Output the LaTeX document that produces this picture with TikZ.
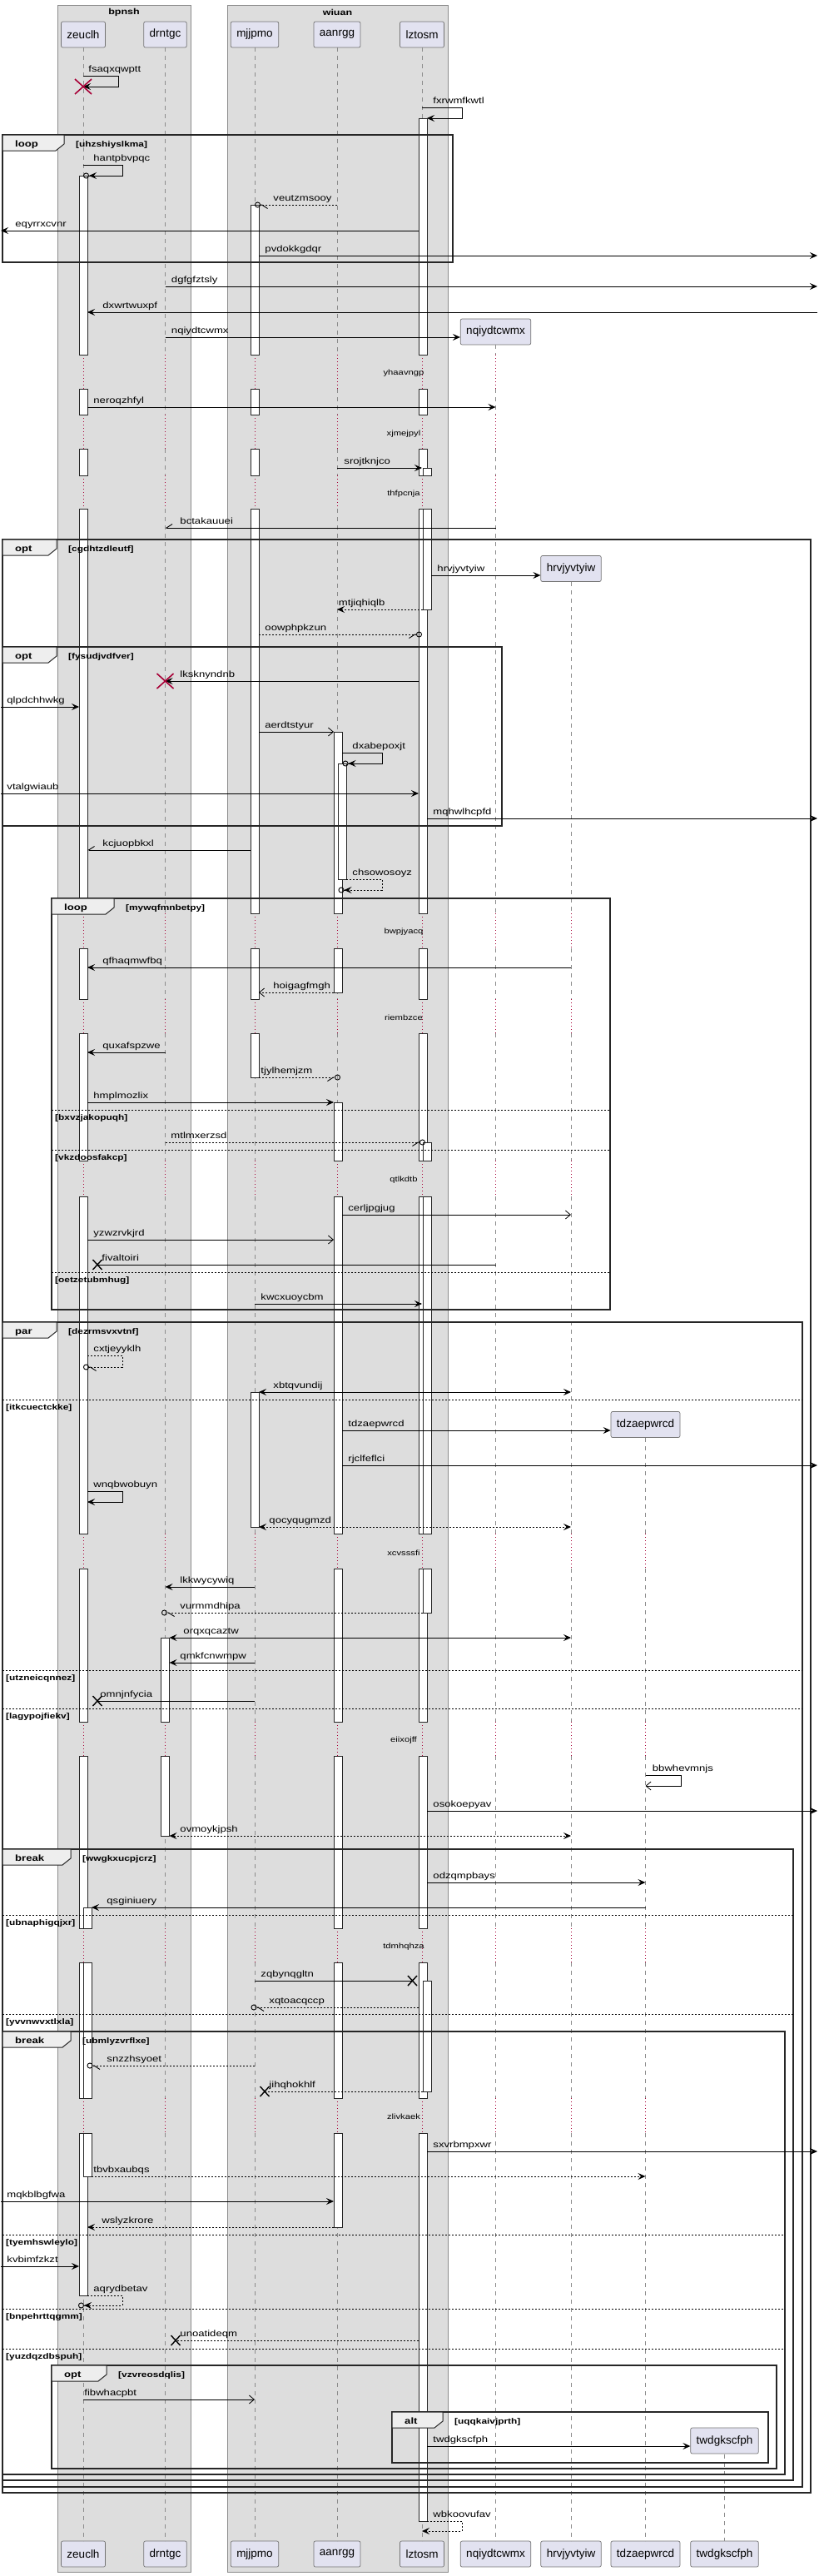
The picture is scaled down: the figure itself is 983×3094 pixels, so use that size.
\documentclass[tikz,border=0pt]{standalone}
\usepackage{fontspec}
\setmainfont{Liberation Sans}
\newfontfamily\msgfont[FakeStretch=1.25]{Liberation Sans}
\usetikzlibrary{arrows.meta}

\definecolor{grpfill}{HTML}{DDDDDD}
\definecolor{partfill}{HTML}{E2E2F0}
\definecolor{tabfill}{HTML}{EEEEEE}
\definecolor{delayred}{HTML}{A80036}

\tikzset{
  solidhead/.tip={Stealth[length=9pt,width=8pt,inset=3.5pt]},
  openhead/.tip={Straight Barb[length=6pt,width=10pt]},
  halfr/.tip={Straight Barb[right,length=7pt,width=9pt]},
  halfl/.tip={Straight Barb[left,length=7pt,width=9pt]},
  ring/.tip={Circle[open,length=7pt]},
  grpbox/.style={draw=black!45, fill=grpfill, line width=0.6pt},
  grptitle/.style={font=\msgfont\bfseries\fontsize{10}{12}\selectfont, inner sep=0pt},
  partbox/.style={draw=black!55, fill=partfill, rounded corners=2pt, line width=0.7pt,
    minimum height=31pt, inner xsep=7pt, inner ysep=0pt, font=\fontsize{13.5}{16}\selectfont},
  life/.style={draw=black!45, line width=0.6pt, dash pattern=on 5pt off 5pt},
  delayline/.style={draw=delayred, line width=0.7pt, dash pattern=on 1pt off 3pt},
  actbox/.style={draw=black!85, fill=white, line width=0.7pt},
  syncmsg/.style={draw=black, line width=0.9pt, -solidhead},
  retmsg/.style={syncmsg, dash pattern=on 2pt off 2pt},
  opnmsg/.style={draw=black, line width=0.8pt, -openhead},
  ropnmsg/.style={opnmsg, dash pattern=on 2pt off 2pt},
  plainmsg/.style={draw=black, line width=0.9pt},
  msglbl/.style={font=\msgfont\fontsize{10.5}{12}\selectfont, anchor=base west, inner sep=0pt, yshift=5pt},
  delaylbl/.style={font=\msgfont\fontsize{9}{11}\selectfont, inner sep=0pt},
  fragbox/.style={draw=black!85, line width=1.4pt},
  fragtab/.style={draw=black!85, fill=tabfill, line width=1pt},
  kwlbl/.style={font=\msgfont\bfseries\fontsize{10.5}{12}\selectfont, anchor=base west, inner sep=0pt},
  condlbl/.style={font=\msgfont\bfseries\fontsize{9.5}{11}\selectfont, anchor=base west, inner sep=0pt},
  elseline/.style={draw=black, line width=0.7pt, dash pattern=on 2pt off 2pt},
  destroyx/.style={draw=delayred, line width=1.6pt},
  lostx/.style={draw=black, line width=1.4pt}
}

\def\segs{57/426,467/498,539/571,611/1097,1139/1200,1241/1394,1437/1842,1884/2068,2109/2316,2357/2520,2562/3052}
\def\gaps{426/467,498/539,571/611,1097/1139,1200/1241,1394/1437,1842/1884,2068/2109,2316/2357,2520/2562}

\newcommand\lifeline[2]{%
  \foreach \a/\b in \segs {%
    \pgfmathsetmacro\segLo{max(\a,#2)}%
    \pgfmathtruncatemacro\segOk{\b>\segLo}%
    \ifnum\segOk>0 \draw[life] (#1 |- 0,\segLo) -- (#1 |- 0,\b);\fi}%
  \foreach \a/\b in \gaps {%
    \pgfmathtruncatemacro\segOk{\a>=#2}%
    \ifnum\segOk>0 \draw[delayline] (#1 |- 0,\a) -- (#1 |- 0,\b);\fi}}

\newcommand\actbar[4]{%
  \foreach \a/\b in \segs {%
    \pgfmathsetmacro\segLo{max(\a,#3)}%
    \pgfmathsetmacro\segHi{min(\b,#4)}%
    \pgfmathtruncatemacro\segOk{\segHi>\segLo}%
    \ifnum\segOk>0 \draw[actbox] ([xshift=#2pt-5pt]#1 |- 0,\segLo) rectangle ([xshift=#2pt+5pt]#1 |- 0,\segHi);\fi}}

\newcommand\fragment[8]{%
  \draw[fragbox] (#2,#3) rectangle (#4,#5);
  \draw[fragtab] (#2,#3) -- (#6,#3) -- (#6,#3+11) -- (#6-10,#3+19) -- (#2,#3+19) -- cycle;
  \node[kwlbl] (#1-kw) at (#2+15,#3+14.5) {#7};
  \node[condlbl] (#1-cond) at (#6+14,#3+14) {[#8]};}

\newcommand\elsepart[5]{%
  \draw[elseline] (#2,#4) -- (#3,#4);
  \node[condlbl] (#1) at (#2+4,#4+12) {[#5]};}

\begin{document}
\begin{tikzpicture}[x=1pt,y=-1pt]
\useasboundingbox (0,0) rectangle (983,3094);
\coordinate (lft) at (1,0);
\coordinate (rgt) at (982,0);

\draw[grpbox] (69,6) rectangle (229,3089);
\draw[grpbox] (273,6) rectangle (538,3089);
\node[grptitle] (bpnsh) at (149,15) {bpnsh};
\node[grptitle] (wiuan) at (405.5,15) {wiuan};

\node[partbox] (zeuclh) at (100,41.5) {zeuclh};
\node[partbox] (drntgc) at (198.5,41.5) {drntgc};
\node[partbox] (mjjpmo) at (306,41.5) {mjjpmo};
\node[partbox] (aanrgg) at (405,41.5) {aanrgg};
\node[partbox] (lztosm) at (507,41.5) {lztosm};
\node[partbox] (nqiydtcwmx) at (595.5,398.5) {nqiydtcwmx};
\node[partbox] (hrvjyvtyiw) at (686,683) {hrvjyvtyiw};
\node[partbox] (tdzaepwrcd) at (775.5,1711) {tdzaepwrcd};
\node[partbox] (twdgkscfph) at (870.5,2931.5) {twdgkscfph};

\node[partbox] (zeuclhB) at (zeuclh |- 0,3067.5) {zeuclh};
\node[partbox] (drntgcB) at (drntgc |- 0,3067.5) {drntgc};
\node[partbox] (mjjpmoB) at (mjjpmo |- 0,3067.5) {mjjpmo};
\node[partbox] (aanrggB) at (aanrgg |- 0,3067.5) {aanrgg};
\node[partbox] (lztosmB) at (lztosm |- 0,3067.5) {lztosm};
\node[partbox] (nqiydtcwmxB) at (nqiydtcwmx |- 0,3067.5) {nqiydtcwmx};
\node[partbox] (hrvjyvtyiwB) at (hrvjyvtyiw |- 0,3067.5) {hrvjyvtyiw};
\node[partbox] (tdzaepwrcdB) at (tdzaepwrcd |- 0,3067.5) {tdzaepwrcd};
\node[partbox] (twdgkscfphB) at (twdgkscfph |- 0,3067.5) {twdgkscfph};

\lifeline{zeuclh}{57}
\lifeline{drntgc}{57}
\lifeline{mjjpmo}{57}
\lifeline{aanrgg}{57}
\lifeline{lztosm}{57}
\lifeline{nqiydtcwmx}{414}
\lifeline{hrvjyvtyiw}{699}
\lifeline{tdzaepwrcd}{1727}
\lifeline{twdgkscfph}{2948}

\actbar{zeuclh}{0}{211}{2757}
\actbar{zeuclh}{5}{2291}{2614}
\actbar{mjjpmo}{0}{246}{1294}
\actbar{mjjpmo}{0}{1672}{1834}
\actbar{aanrgg}{1}{879}{1192}
\actbar{aanrgg}{6}{917}{1056}
\actbar{aanrgg}{1}{1324}{2675}
\actbar{lztosm}{1}{142}{3028}
\actbar{lztosm}{6}{562}{732}
\actbar{lztosm}{6}{1372}{1937}
\actbar{lztosm}{6}{2379}{2512}
\actbar{drntgc}{0}{1967}{2205}

\fragment{loopA}{3}{162}{544}{315}{77}{loop}{uhzshiyslkma}
\fragment{optA}{3}{648}{974}{2994}{68}{opt}{cgdhtzdleutf}
\fragment{optB}{3}{777}{603}{992}{68}{opt}{fysudjvdfver}
\fragment{loopB}{62}{1079}{733}{1573}{137}{loop}{mywqfmnbetpy}
\elsepart{loopB1}{62}{733}{1333}{bxvzjakopuqh}
\elsepart{loopB2}{62}{733}{1381}{vkzdoosfakcp}
\elsepart{loopB3}{62}{733}{1528}{oetzetubmhug}
\fragment{parA}{3}{1588}{964}{2987}{68}{par}{dezrmsvxvtnf}
\elsepart{parA1}{3}{964}{1681}{itkcuectckke}
\elsepart{parA2}{3}{964}{2006}{utzneicqnnez}
\elsepart{parA3}{3}{964}{2052}{lagypojfiekv}
\fragment{breakA}{3}{2221}{953}{2979}{85}{break}{wwgkxucpjcrz}
\elsepart{breakA1}{3}{953}{2300}{ubnaphigqjxr}
\elsepart{breakA2}{3}{953}{2419}{yvvnwvxtlxla}
\fragment{breakB}{3}{2440}{943}{2972}{85}{break}{ubmlyzvrflxe}
\elsepart{breakB1}{3}{943}{2684}{tyemhswleylo}
\elsepart{breakB2}{3}{943}{2773}{bnpehrttqgmm}
\elsepart{breakB3}{3}{943}{2821}{yuzdqzdbspuh}
\fragment{optC}{62}{2841}{933}{2965}{128}{opt}{vzvreosdqlis}
\fragment{altA}{471}{2897}{923}{2958}{532}{alt}{uqqkaivjprth}

\foreach \yy/\txt [count=\i] in {448/yhaavngp,521/xjmejpyl,593/thfpcnja,1119/bwpjyacq,1222/riembzce,1417/qtlkdtb,1865/xcvsssfi,2090/eiixojff,2338/tdmhqhza,2542/zlivkaek}
  \node[delaylbl] (dl\i) at (485,\yy) {\txt};

\draw[syncmsg] (zeuclh |- 0,91) node[msglbl, xshift=6pt] (m01) {fsaqxqwptt} -- ++(42,0) -- ++(0,13) -- (zeuclh |- 0,104);
\draw[syncmsg] (lztosm |- 0,129) node[msglbl, xshift=13pt] (m02) {fxrwmfkwtl} -- ++(48,0) -- ++(0,13) -- ([xshift=6pt]lztosm |- 0,142);
\draw[syncmsg, -{solidhead[] ring[]}] (zeuclh |- 0,198) node[msglbl, xshift=12pt] (m03) {hantpbvpqc} -- ++(47,0) -- ++(0,13) -- (zeuclh |- 0,211);
\draw[retmsg, -{halfl[] ring[]}] (aanrgg |- 0,246) -- (mjjpmo |- 0,246) node[msglbl, xshift=22pt] (m04) {veutzmsooy};
\draw[syncmsg] ([xshift=-4pt]lztosm |- 0,277) -- (lft |- 0,277) node[msglbl, xshift=17pt] (m05) {eqyrrxcvnr};
\draw[syncmsg] ([xshift=5pt]mjjpmo |- 0,307) node[msglbl, xshift=7pt] (m06) {pvdokkgdqr} -- (rgt |- 0,307);
\draw[syncmsg] (drntgc |- 0,344) node[msglbl, xshift=7pt] (m07) {dgfgfztsly} -- (rgt |- 0,344);
\draw[syncmsg] (rgt |- 0,375) -- ([xshift=5pt]zeuclh |- 0,375) node[msglbl, xshift=18pt] (m08) {dxwrtwuxpf};
\draw[syncmsg] (drntgc |- 0,405) node[msglbl, xshift=7pt] (m09) {nqiydtcwmx} -- (nqiydtcwmx.west |- 0,405);
\draw[syncmsg] ([xshift=5pt]zeuclh |- 0,489) node[msglbl, xshift=7pt] (m10) {neroqzhfyl} -- (nqiydtcwmx |- 0,489);
\draw[syncmsg] (aanrgg |- 0,562) node[msglbl, xshift=8pt] (m11) {srojtknjco} -- (lztosm |- 0,562);
\draw[syncmsg, -halfr] (nqiydtcwmx |- 0,634) -- (drntgc |- 0,634) node[msglbl, xshift=17.5pt] (m12) {bctakauuei};
\draw[syncmsg] ([xshift=11pt]lztosm |- 0,691) node[msglbl, xshift=7pt] (m13) {hrvjyvtyiw} -- (hrvjyvtyiw.west |- 0,691);
\draw[retmsg] ([xshift=1pt]lztosm |- 0,732) -- (aanrgg |- 0,732) node[msglbl, xshift=1.5pt] (m14) {mtjiqhiqlb};
\draw[retmsg, -{halfr[] ring[]}] ([xshift=5pt]mjjpmo |- 0,762) node[msglbl, xshift=7pt] (m15) {oowphpkzun} -- (lztosm |- 0,762);
\draw[syncmsg] ([xshift=-4pt]lztosm |- 0,818) -- (drntgc |- 0,818) node[msglbl, xshift=17.5pt] (m16) {lksknyndnb};
\draw[syncmsg] (lft |- 0,849) node[msglbl, xshift=7pt] (m17) {qlpdchhwkg} -- ([xshift=-5pt]zeuclh |- 0,849);
\draw[opnmsg] ([xshift=5pt]mjjpmo |- 0,879) node[msglbl, xshift=7pt] (m18) {aerdtstyur} -- ([xshift=-4pt]aanrgg |- 0,879);
\draw[syncmsg, -{solidhead[] ring[]}] ([xshift=6pt]aanrgg |- 0,904) node[msglbl, xshift=12pt] (m19) {dxabepoxjt} -- ++(48,0) -- ++(0,13) -- ([xshift=6.5pt]aanrgg |- 0,917);
\draw[syncmsg] (lft |- 0,953) node[msglbl, xshift=7pt] (m20) {vtalgwiaub} -- ([xshift=-4pt]lztosm |- 0,953);
\draw[syncmsg] ([xshift=6pt]lztosm |- 0,983) node[msglbl, xshift=7pt] (m21) {mqhwlhcpfd} -- (rgt |- 0,983);
\draw[syncmsg, -halfr] ([xshift=-5pt]mjjpmo |- 0,1021) -- ([xshift=5pt]zeuclh |- 0,1021) node[msglbl, xshift=18pt] (m22) {kcjuopbkxl};
\draw[retmsg, -{solidhead[] ring[]}] ([xshift=11pt]aanrgg |- 0,1056) node[msglbl, xshift=7pt] (m23) {chsowosoyz} -- ([xshift=54pt]aanrgg |- 0,1056) -- ++(0,13) -- ([xshift=1.5pt]aanrgg |- 0,1069);
\draw[syncmsg] (hrvjyvtyiw |- 0,1162) -- ([xshift=5pt]zeuclh |- 0,1162) node[msglbl, xshift=18pt] (m24) {qfhaqmwfbq};
\draw[ropnmsg] ([xshift=-4pt]aanrgg |- 0,1192) -- ([xshift=5pt]mjjpmo |- 0,1192) node[msglbl, xshift=17pt] (m25) {hoigagfmgh};
\draw[syncmsg] (drntgc |- 0,1264) -- ([xshift=5pt]zeuclh |- 0,1264) node[msglbl, xshift=18pt] (m26) {quxafspzwe};
\draw[retmsg, -{halfr[] ring[]}] ([xshift=5pt]mjjpmo |- 0,1294) node[msglbl, xshift=2pt] (m27) {tjylhemjzm} -- ([xshift=4pt]aanrgg |- 0,1294);
\draw[syncmsg] ([xshift=5pt]zeuclh |- 0,1324) node[msglbl, xshift=7pt] (m28) {hmplmozlix} -- ([xshift=-4pt]aanrgg |- 0,1324);
\draw[retmsg, -{halfr[] ring[]}] (drntgc |- 0,1372) node[msglbl, xshift=6.5pt] (m29) {mtlmxerzsd} -- ([xshift=4pt]lztosm |- 0,1372);
\draw[opnmsg] ([xshift=6pt]aanrgg |- 0,1459) node[msglbl, xshift=7pt] (m30) {cerljpgjug} -- (hrvjyvtyiw |- 0,1459);
\draw[opnmsg] ([xshift=5pt]zeuclh |- 0,1489) node[msglbl, xshift=7pt] (m31) {yzwzrvkjrd} -- ([xshift=-4pt]aanrgg |- 0,1489);
\draw[plainmsg] (nqiydtcwmx |- 0,1519) -- ([xshift=17pt]zeuclh |- 0,1519) node[msglbl, xshift=5pt] (m32) {fivaltoiri};
\draw[syncmsg] (mjjpmo |- 0,1566) node[msglbl, xshift=7pt] (m33) {kwcxuoycbm} -- (lztosm |- 0,1566);
\draw[retmsg, -{halfl[] ring[]}] ([xshift=5pt]zeuclh |- 0,1628) node[msglbl, xshift=7pt] (m34) {cxtjeyyklh} -- ([xshift=47pt]zeuclh |- 0,1628) -- ++(0,14) -- (zeuclh |- 0,1642);
\draw[syncmsg, solidhead-solidhead] ([xshift=5pt]mjjpmo |- 0,1672) node[msglbl, xshift=17pt] (m35) {xbtqvundij} -- (hrvjyvtyiw |- 0,1672);
\draw[syncmsg] ([xshift=6pt]aanrgg |- 0,1718) node[msglbl, xshift=7pt] (m36) {tdzaepwrcd} -- (tdzaepwrcd.west |- 0,1718);
\draw[syncmsg] ([xshift=6pt]aanrgg |- 0,1760) node[msglbl, xshift=7pt] (m37) {rjclfeflci} -- (rgt |- 0,1760);
\draw[syncmsg] ([xshift=5pt]zeuclh |- 0,1791) node[msglbl, xshift=7pt] (m38) {wnqbwobuyn} -- ([xshift=47pt]zeuclh |- 0,1791) -- ++(0,13) -- ([xshift=5pt]zeuclh |- 0,1804);
\draw[retmsg, solidhead-solidhead] ([xshift=5pt]mjjpmo |- 0,1834) node[msglbl, xshift=12pt] (m39) {qocyqugmzd} -- (hrvjyvtyiw |- 0,1834);
\draw[syncmsg] (mjjpmo |- 0,1906) -- (drntgc |- 0,1906) node[msglbl, xshift=17.5pt] (m40) {lkkwycywiq};
\draw[retmsg, -{halfl[] ring[]}] ([xshift=1pt]lztosm |- 0,1937) -- ([xshift=-4.5pt]drntgc |- 0,1937) node[msglbl, xshift=22pt] (m41) {vurmmdhipa};
\draw[syncmsg, solidhead-solidhead] ([xshift=5pt]drntgc |- 0,1967) node[msglbl, xshift=16.5pt] (m42) {orqxqcaztw} -- (hrvjyvtyiw |- 0,1967);
\draw[syncmsg] (mjjpmo |- 0,1997) -- ([xshift=5pt]drntgc |- 0,1997) node[msglbl, xshift=12.5pt] (m43) {qmkfcnwmpw};
\draw[plainmsg] (mjjpmo |- 0,2043) -- ([xshift=17pt]zeuclh |- 0,2043) node[msglbl, xshift=3pt] (m44) {omnjnfycia};
\draw[opnmsg] (tdzaepwrcd |- 0,2132) node[msglbl, xshift=8pt] (m45) {bbwhevmnjs} -- ++(43,0) -- ++(0,13) -- (tdzaepwrcd |- 0,2145);
\draw[syncmsg] ([xshift=6pt]lztosm |- 0,2175) node[msglbl, xshift=7pt] (m46) {osokoepyav} -- (rgt |- 0,2175);
\draw[retmsg, solidhead-solidhead] ([xshift=5pt]drntgc |- 0,2205) node[msglbl, xshift=12.5pt] (m47) {ovmoykjpsh} -- (hrvjyvtyiw |- 0,2205);
\draw[syncmsg] ([xshift=6pt]lztosm |- 0,2261) node[msglbl, xshift=7pt] (m48) {odzqmpbays} -- (tdzaepwrcd |- 0,2261);
\draw[syncmsg] (tdzaepwrcd |- 0,2291) -- ([xshift=10pt]zeuclh |- 0,2291) node[msglbl, xshift=18pt] (m49) {qsginiuery};
\draw[plainmsg] (mjjpmo |- 0,2379) node[msglbl, xshift=7pt] (m50) {zqbynqgltn} -- ([xshift=-11.5pt]lztosm |- 0,2379);
\draw[retmsg, -{halfl[] ring[]}] ([xshift=-4pt]lztosm |- 0,2411) -- ([xshift=-4.5pt]mjjpmo |- 0,2411) node[msglbl, xshift=21.5pt] (m51) {xqtoacqccp};
\draw[retmsg, -{halfl[] ring[]}] (mjjpmo |- 0,2481) -- ([xshift=4.5pt]zeuclh |- 0,2481) node[msglbl, xshift=23.5pt] (m52) {snzzhsyoet};
\draw[retmsg, -] ([xshift=1pt]lztosm |- 0,2512) -- ([xshift=12pt]mjjpmo |- 0,2512) node[msglbl, xshift=5pt] (m53) {jihqhokhlf};
\draw[syncmsg] ([xshift=6pt]lztosm |- 0,2584) node[msglbl, xshift=7pt] (m54) {sxvrbmpxwr} -- (rgt |- 0,2584);
\draw[retmsg] ([xshift=10pt]zeuclh |- 0,2614) node[msglbl, xshift=2pt] (m55) {tbvbxaubqs} -- (tdzaepwrcd |- 0,2614);
\draw[syncmsg] (lft |- 0,2644) node[msglbl, xshift=7pt] (m56) {mqkblbgfwa} -- ([xshift=-4pt]aanrgg |- 0,2644);
\draw[retmsg] ([xshift=-4pt]aanrgg |- 0,2675) -- ([xshift=5pt]zeuclh |- 0,2675) node[msglbl, xshift=17pt] (m57) {wslyzkrore};
\draw[syncmsg] (lft |- 0,2722) node[msglbl, xshift=7pt] (m58) {kvbimfzkzt} -- ([xshift=-5pt]zeuclh |- 0,2722);
\draw[retmsg, -{solidhead[] ring[]}] ([xshift=5pt]zeuclh |- 0,2757) node[msglbl, xshift=7pt] (m59) {aqrydbetav} -- ([xshift=47pt]zeuclh |- 0,2757) -- ++(0,12) -- ([xshift=-6pt]zeuclh |- 0,2769);
\draw[retmsg, -] ([xshift=-4pt]lztosm |- 0,2811) -- ([xshift=12.5pt]drntgc |- 0,2811) node[msglbl, xshift=5pt] (m60) {unoatideqm};
\draw[opnmsg] (zeuclh |- 0,2882) node[msglbl, xshift=1pt] (m61) {fibwhacpbt} -- (mjjpmo |- 0,2882);
\draw[syncmsg] ([xshift=6pt]lztosm |- 0,2938) node[msglbl, xshift=7pt] (m62) {twdgkscfph} -- (twdgkscfph.west |- 0,2938);
\draw[retmsg] ([xshift=6pt]lztosm |- 0,3028) node[msglbl, xshift=7pt] (m63) {wbkoovufav} -- ([xshift=48pt]lztosm |- 0,3028) -- ++(0,12) -- (lztosm |- 0,3040);

\draw[destroyx] (zeuclh |- 0,104) +(-10,-9) -- +(10,9) +(-10,9) -- +(10,-9);
\draw[destroyx] (drntgc |- 0,818) +(-10,-9) -- +(10,9) +(-10,9) -- +(10,-9);
\draw[lostx] ([xshift=17pt]zeuclh |- 0,1519) +(-5.5,-6) -- +(5.5,6) +(-5.5,6) -- +(5.5,-6);
\draw[lostx] ([xshift=17pt]zeuclh |- 0,2043) +(-5.5,-6) -- +(5.5,6) +(-5.5,6) -- +(5.5,-6);
\draw[lostx] ([xshift=-11.5pt]lztosm |- 0,2379) +(-5.5,-6) -- +(5.5,6) +(-5.5,6) -- +(5.5,-6);
\draw[lostx] ([xshift=12pt]mjjpmo |- 0,2512) +(-5.5,-6) -- +(5.5,6) +(-5.5,6) -- +(5.5,-6);
\draw[lostx] ([xshift=12.5pt]drntgc |- 0,2811) +(-5.5,-6) -- +(5.5,6) +(-5.5,6) -- +(5.5,-6);

\end{tikzpicture}
\end{document}
